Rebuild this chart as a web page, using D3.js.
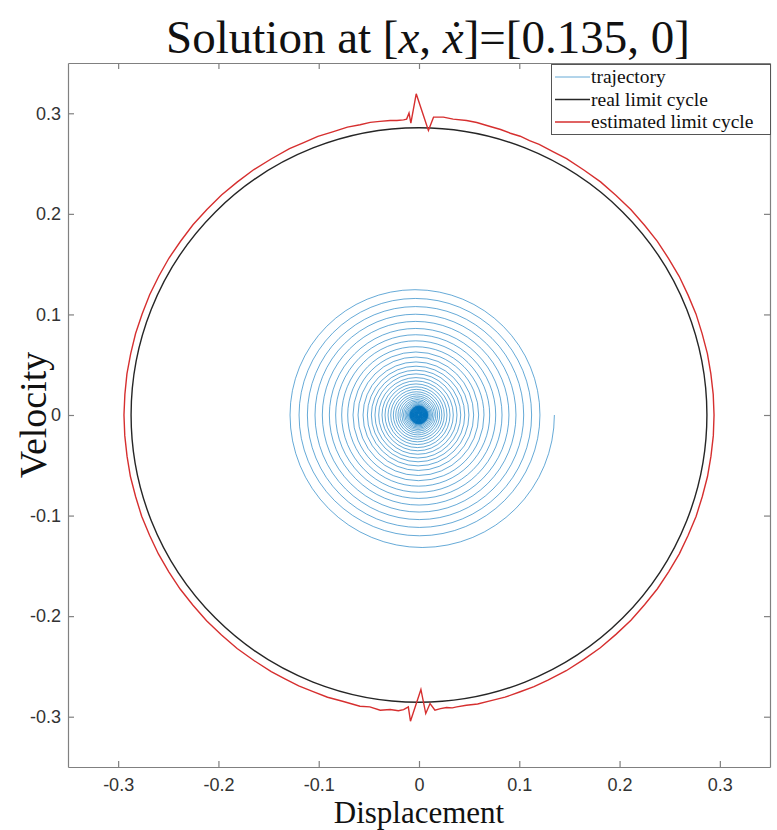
<!DOCTYPE html>
<html>
<head>
<meta charset="utf-8">
<script src="https://cdn.jsdelivr.net/npm/d3@7"></script>
<style>
body { margin: 0; background: #fff; }
</style>
</head>
<body>
<script>
//Width and height
var w = 777;
var h = 830;
var margin = {top: 63, right: 7, bottom: 63, left: 68};

// axis ticks
var xTicks = [-0.3, -0.2, -0.1, 0, 0.1, 0.2, 0.3];
var yTicks = [-0.3, -0.2, -0.1, 0, 0.1, 0.2, 0.3];

// trajectory: where the spiral crosses the displacement axis, right and left side, in order
var rightCross = [0.1350, 0.1206, 0.1123, 0.1044, 0.0967, 0.0897, 0.0828, 0.0765, 0.0705, 0.0648,
                  0.0595, 0.0545, 0.0498, 0.0456, 0.0416, 0.0379, 0.0342, 0.0309, 0.0279, 0.0252,
                  0.0228, 0.0206, 0.0186, 0.0168, 0.0152, 0.0137, 0.0124, 0.0112, 0.0101, 0.0093,
                  0.0088, 0.0086, 0.0084, 0.0082, 0.0080, 0.0078, 0.0076, 0.0074, 0.0072, 0.0070,
                  0.0068, 0.0066, 0.0064, 0.0062, 0.0060, 0.0058, 0.0056, 0.0054, 0.0052, 0.0050,
                  0.0048, 0.0046, 0.0044, 0.0042, 0.0040, 0.0038, 0.0036, 0.0034, 0.0032, 0.0030,
                  0.0028, 0.0026, 0.0024, 0.0022, 0.0020, 0.0018, 0.0016, 0.0014, 0.0012, 0.0010,
                  0.0008, 0.0006, 0.0004];
var leftCross = [-0.1286, -0.1196, -0.1113, -0.1037, -0.0964, -0.0894, -0.0831, -0.0771, -0.0711, -0.0658,
                 -0.0608, -0.0558, -0.0515, -0.0475, -0.0439, -0.0402, -0.0369, -0.0339, -0.0309, -0.0282,
                 -0.0256, -0.0232, -0.0210, -0.0190, -0.0172, -0.0156, -0.0141, -0.0128, -0.0116, -0.0105,
                 -0.0097, -0.0091, -0.0089, -0.0087, -0.0085, -0.0083, -0.0081, -0.0079, -0.0077, -0.0075,
                 -0.0073, -0.0071, -0.0069, -0.0067, -0.0065, -0.0063, -0.0061, -0.0059, -0.0057, -0.0055,
                 -0.0053, -0.0051, -0.0049, -0.0047, -0.0045, -0.0043, -0.0041, -0.0039, -0.0037, -0.0035,
                 -0.0033, -0.0031, -0.0029, -0.0027, -0.0025, -0.0023, -0.0021, -0.0019, -0.0017, -0.0015,
                 -0.0013, -0.0011, -0.0009, -0.0007];

// real limit cycle: semi axes (displacement, velocity)
var realCycle = [0.2871, 0.2856];

// estimated limit cycle in polar form: angle (deg) and radius
var estAngle = [0, 4, 8, 12, 16, 20, 24, 28, 32, 36, 40, 44, 48, 52, 56, 60, 63, 66, 68, 70,
                72, 74, 76.1, 78.8, 80.8, 83.4, 85.3, 87.2, 88.1, 90.5, 91.6, 91.9, 92.4, 93.0, 94.3, 95.6,
                97.6, 99.5, 101.5, 104, 107, 110, 113, 116, 120, 124, 128, 132, 136, 140, 144, 148,
                152, 156, 160, 164, 168, 172, 176, 180, 184, 188, 192, 196, 200, 204, 208, 212, 216, 220,
                224, 228, 232, 236, 240, 243, 246, 249, 252, 255, 258.5, 260.4, 262.5, 264.4, 266, 267.0,
                267.9, 268.4, 270.4, 271.3, 272.2, 273.1, 274.2, 275.4, 276.5, 277.4, 279.3, 281.5, 284.0, 287,
                290, 293, 296, 300, 304, 308, 312, 316, 320, 324, 328, 332, 336, 340, 344, 348, 352, 356, 360];
var estRadius = [0.2942, 0.2941, 0.2939, 0.2940, 0.2937, 0.2939, 0.2936, 0.2938, 0.2935, 0.2938, 0.2936, 0.2939,
                 0.2937, 0.2941, 0.2939, 0.2943, 0.2940, 0.2946, 0.2942, 0.2950,
                 0.2946, 0.2953, 0.2955, 0.2965, 0.2967, 0.2962, 0.2972, 0.2965, 0.2831, 0.3194, 0.2903, 0.3004,
                 0.2945, 0.2939, 0.2937, 0.2943, 0.2945, 0.2950, 0.2945, 0.2950, 0.2944, 0.2948, 0.2943, 0.2946,
                 0.2942, 0.2944, 0.2941, 0.2943, 0.2940, 0.2942, 0.2939, 0.2941, 0.2939, 0.2940, 0.2938, 0.2940,
                 0.2939, 0.2941, 0.2940, 0.2942, 0.2941, 0.2940, 0.2942, 0.2940, 0.2943, 0.2941, 0.2943, 0.2942,
                 0.2944, 0.2942, 0.2945, 0.2943, 0.2946, 0.2944, 0.2947, 0.2945, 0.2949, 0.2946, 0.2951, 0.2947,
                 0.2955, 0.2943, 0.2961, 0.2943, 0.2948, 0.2933, 0.2904, 0.3046, 0.2729, 0.2969, 0.2871, 0.2939,
                 0.2928, 0.2922, 0.2931, 0.2926, 0.2925, 0.2932, 0.2930, 0.2934, 0.2931, 0.2935, 0.2933, 0.2936,
                 0.2934, 0.2937, 0.2935, 0.2938, 0.2936, 0.2939, 0.2937, 0.2940, 0.2938, 0.2941, 0.2939, 0.2941,
                 0.2940, 0.2942, 0.2942];

var legendLabels = ["trajectory", "real limit cycle", "estimated limit cycle"];
var legendColors = ["#0072BD", "#262626", "#d62f2f"];

//Create scale functions
var xScale = d3.scaleLinear()
  .domain([-0.35, 0.35])
  .range([margin.left, w - margin.right]);

var yScale = d3.scaleLinear()
  .domain([-0.35, 0.35])
  .range([h - margin.bottom, margin.top]);

//Create SVG element
var svg = d3.select("body")
  .append("svg")
  .attr("width", w)
  .attr("height", h);

// trajectory: half ellipses between successive axis crossings
var crossings = [];
for (var i = 0; i < rightCross.length; i++) {
  crossings.push(rightCross[i]);
  if (i < leftCross.length) crossings.push(leftCross[i]);
}
var pathStr = "M" + xScale(crossings[0]) + "," + yScale(0);
for (var i = 1; i < crossings.length; i++) {
  var half = Math.abs(crossings[i] - crossings[i - 1]) / 2;
  var rx = xScale(half) - xScale(0);
  var ry = yScale(0) - yScale(half);
  pathStr += "A" + rx + "," + ry + " 0 0 1 " + xScale(crossings[i]) + "," + yScale(0);
}
svg.append("path")
  .attr("d", pathStr)
  .attr("fill", "none")
  .attr("stroke", legendColors[0])
  .attr("stroke-opacity", 0.6)
  .attr("stroke-width", 1);

// real limit cycle
svg.append("ellipse")
  .attr("cx", xScale(0))
  .attr("cy", yScale(0))
  .attr("rx", xScale(realCycle[0]) - xScale(0))
  .attr("ry", yScale(0) - yScale(realCycle[1]))
  .attr("fill", "none")
  .attr("stroke", legendColors[1])
  .attr("stroke-width", 1.4);

// estimated limit cycle
var estPoints = estAngle.map(function(a, i) {
  var t = a * Math.PI / 180;
  return [estRadius[i] * Math.cos(t), estRadius[i] * Math.sin(t)];
});
var line = d3.line()
  .x(function(d) { return xScale(d[0]); })
  .y(function(d) { return yScale(d[1]); });
svg.append("path")
  .attr("d", line(estPoints))
  .attr("fill", "none")
  .attr("stroke", legendColors[2])
  .attr("stroke-width", 1.4);

// axes, ticks inward on all sides
var axisColor = "#808080";
var bottomAxis = d3.axisBottom(xScale).tickValues(xTicks).tickSizeInner(-6).tickSizeOuter(0)
  .tickPadding(11).tickFormat(function(d) { return String(d); });
var topAxis = d3.axisTop(xScale).tickValues(xTicks).tickSizeInner(-6).tickSizeOuter(0).tickFormat("");
var leftAxis = d3.axisLeft(yScale).tickValues(yTicks).tickSizeInner(-6).tickSizeOuter(0)
  .tickPadding(7).tickFormat(function(d) { return String(d); });
var rightAxis = d3.axisRight(yScale).tickValues(yTicks).tickSizeInner(-6).tickSizeOuter(0).tickFormat("");

svg.append("g").attr("class", "axis").attr("transform", "translate(0," + (h - margin.bottom) + ")").call(bottomAxis);
svg.append("g").attr("class", "axis").attr("transform", "translate(0," + margin.top + ")").call(topAxis);
svg.append("g").attr("class", "axis").attr("transform", "translate(" + margin.left + ",0)").call(leftAxis);
svg.append("g").attr("class", "axis").attr("transform", "translate(" + (w - margin.right) + ",0)").call(rightAxis);

svg.selectAll(".axis path, .axis line").attr("stroke", axisColor).attr("stroke-width", 1.2);
svg.selectAll(".axis text")
  .attr("fill", "#333")
  .style("font-family", "'Liberation Sans', Arial, sans-serif")
  .style("font-size", "18px");

// title and axis labels
var serif = "'Liberation Serif', 'Times New Roman', serif";
var title = svg.append("text")
  .attr("x", 428)
  .attr("y", 53)
  .attr("text-anchor", "middle")
  .style("font-family", serif)
  .style("font-size", "47px")
  .attr("fill", "#111");
title.append("tspan").text("Solution at [");
title.append("tspan").style("font-style", "italic").text("x");
title.append("tspan").text(", ");
title.append("tspan").style("font-style", "italic").text("\u1E8B");
title.append("tspan").text("]=[0.135, 0]");

svg.append("text")
  .attr("x", xScale(0))
  .attr("y", 823)
  .attr("text-anchor", "middle")
  .style("font-family", serif)
  .style("font-size", "31px")
  .attr("fill", "#111")
  .text("Displacement");

svg.append("text")
  .attr("transform", "translate(46," + yScale(0) + ") rotate(-90)")
  .attr("text-anchor", "middle")
  .style("font-family", serif)
  .style("font-size", "38px")
  .attr("fill", "#111")
  .text("Velocity");

// legend
var legend = svg.append("g");
legend.append("rect")
  .attr("x", 551.5)
  .attr("y", 64.5)
  .attr("width", 219)
  .attr("height", 70)
  .attr("fill", "#fff")
  .attr("stroke", "#555")
  .attr("stroke-width", 1);
legendLabels.forEach(function(lab, i) {
  var yy = 77 + i * 22.5;
  legend.append("line")
    .attr("x1", 555).attr("x2", 590)
    .attr("y1", yy).attr("y2", yy)
    .attr("stroke", legendColors[i])
    .attr("stroke-opacity", i === 0 ? 0.6 : 1)
    .attr("stroke-width", i === 0 ? 1 : 1.3);
  legend.append("text")
    .attr("x", 591)
    .attr("y", yy)
    .attr("dy", "0.32em")
    .style("font-family", serif)
    .style("font-size", "19.5px")
    .attr("fill", "#111")
    .text(lab);
});
</script>
</body>
</html>
